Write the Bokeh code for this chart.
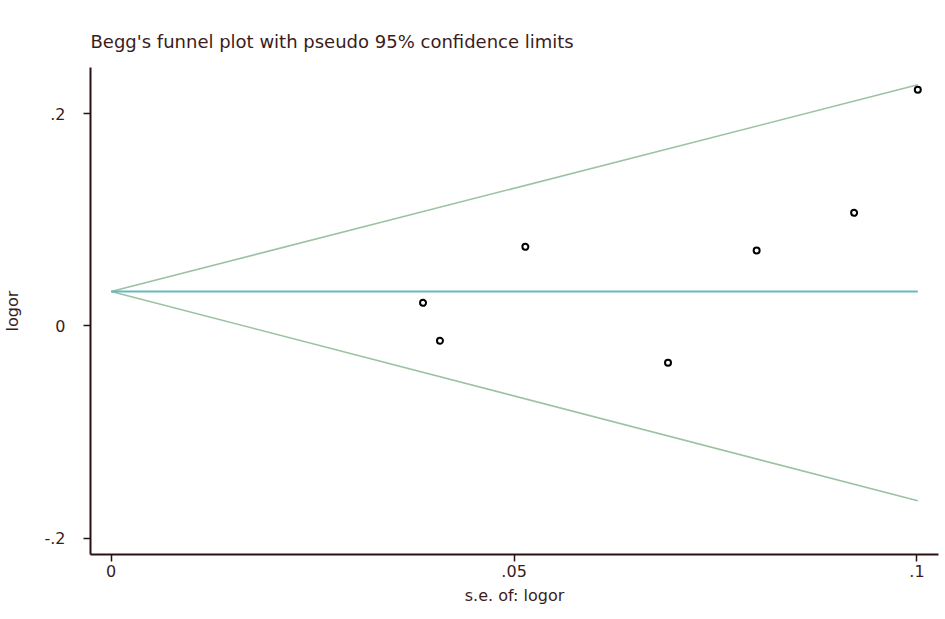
from bokeh.plotting import figure
from bokeh.models import FixedTicker, Range1d, ColumnDataSource
from bokeh.embed import file_html
from bokeh.resources import INLINE

# study data: standard error of log OR, log OR
se_logor = [0.0387, 0.0408, 0.0514, 0.0691, 0.0801, 0.0922, 0.1001]
logor = [0.0218, -0.0139, 0.0745, -0.0346, 0.0711, 0.1065, 0.2223]

# pseudo 95% confidence limits (endpoints)
limit_se = [0.0, 0.1001]
pooled = [0.0325, 0.0325]
upper_limit = [0.0325, 0.2270]
lower_limit = [0.0325, -0.1645]

x_ticks = [0, 0.05, 0.1]
x_labels = {0: "0", 0.05: ".05", 0.1: ".1"}
y_ticks = [-0.2, 0, 0.2]
y_labels = {-0.2: "-.2", 0: "0", 0.2: ".2"}

FONT = "DejaVu Sans"
TXT = "#3a1c1c"
AX = "#2a1212"

p = figure(width=940, height=615, output_backend="svg", toolbar_location=None,
           x_range=Range1d(-0.00257, 0.10267), y_range=Range1d(-0.2151, 0.2433),
           min_border_left=90, min_border_right=2, min_border_bottom=61, min_border_top=67,
           title="Begg's funnel plot with pseudo 95% confidence limits")

p.title.text_font = FONT
p.title.text_font_size = "18px"
p.title.text_font_style = "normal"
p.title.text_color = TXT
p.title.align = "left"
p.title.standoff = 31

p.outline_line_color = None
p.grid.visible = False
p.background_fill_color = "white"
p.border_fill_color = "white"

p.line(limit_se, upper_limit, line_color="#9cc2a2", line_width=1.6)
p.line(limit_se, lower_limit, line_color="#9cc2a2", line_width=1.6)
p.line(limit_se, pooled, line_color="#66b9bb", line_width=2)

src = ColumnDataSource(dict(x=se_logor, y=logor))
p.scatter("x", "y", source=src, size=6, fill_color="white", line_color="black", line_width=2)

for ax in (p.xaxis[0], p.yaxis[0]):
    ax.axis_line_color = AX
    ax.axis_line_width = 2
    ax.major_tick_line_color = AX
    ax.major_tick_line_width = 1.5
    ax.major_tick_in = 0
    ax.major_tick_out = 7
    ax.minor_tick_line_color = None
    ax.major_label_text_font = FONT
    ax.major_label_text_font_size = "16px"
    ax.major_label_text_color = TXT
    ax.axis_label_text_font = FONT
    ax.axis_label_text_font_size = "16px"
    ax.axis_label_text_font_style = "normal"
    ax.axis_label_text_color = TXT

p.xaxis.ticker = FixedTicker(ticks=x_ticks)
p.xaxis.major_label_overrides = x_labels
p.xaxis.axis_label = "s.e. of: logor"
p.xaxis.major_label_standoff = 3
p.xaxis.axis_label_standoff = 6

p.yaxis.ticker = FixedTicker(ticks=y_ticks)
p.yaxis.major_label_overrides = y_labels
p.yaxis.axis_label = "logor"
p.yaxis.major_label_standoff = 18
p.yaxis.axis_label_standoff = 19

open("out.html", "w").write(file_html(p, INLINE))
